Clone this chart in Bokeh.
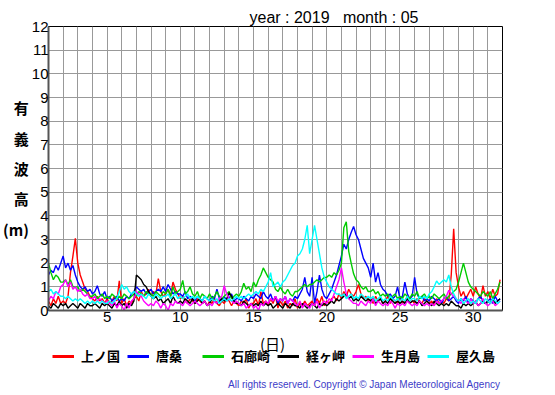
from bokeh.plotting import figure
from bokeh.models import Range1d, FixedTicker, Legend, LegendItem, Label
from bokeh.layouts import column
from bokeh.embed import file_html
from bokeh.resources import INLINE
import numpy as np

# 4-hourly significant wave height (m), May 2019, 6 samples per day
joshuni = [  # 上ノ国
 0.4,0.2,0.5,0.3,0.6,0.3, 0.4,0.3,0.6,1.6,2.3,3.05, 2.0,1.5,1.2,0.9,0.8,0.6,
 0.5,0.4,0.6,0.4,0.5,0.3, 0.5,0.3,0.4,0.6,0.4,1.25, 0.3,0.5,0.2,0.4,0.3,0.5,
 0.6,0.4,0.8,0.6,0.7,0.9, 0.6,0.8,0.7,1.35,0.8,0.6, 0.7,0.9,0.6,1.2,0.9,0.7,
 0.5,0.6,0.4,0.3,0.5,0.4, 0.3,0.5,0.4,0.3,0.4,0.2, 0.4,0.3,0.5,0.3,0.2,0.4,
 0.3,0.5,0.4,0.2,0.4,0.3, 0.2,0.4,0.3,0.5,0.1,0.3, 0.3,0.5,0.2,0.8,0.3,0.4,
 0.2,0.5,0.3,0.6,0.1,0.4, 0.2,0.4,0.1,0.3,0.2,0.5, 0.1,0.3,0.2,0.4,0.2,0.3,
 0.4,0.2,0.5,0.3,0.6,0.2, 0.4,0.3,0.5,0.6,0.4,0.7, 0.5,0.8,0.6,0.9,0.7,0.6,
 0.8,1.1,0.7,0.5,0.6,0.4, 0.5,0.3,0.6,0.4,0.5,0.3, 0.4,0.6,0.3,0.5,0.4,0.3,
 0.5,0.3,0.4,0.6,0.3,0.4, 0.3,0.5,0.4,0.3,0.5,0.4, 0.3,0.4,0.2,0.5,0.3,0.4,
 0.3,0.5,0.4,1.5,3.45,1.6, 1.0,0.6,0.8,0.5,0.7,0.9, 0.6,1.0,0.7,0.5,1.05,0.6,
 0.8,0.5,0.9,0.6,0.7,1.3]
karakuwa = [  # 唐桑
 1.5,1.7,1.6,1.9,1.7,2.0, 2.3,1.8,2.0,1.7,1.9,1.5, 1.2,1.0,0.9,1.0,0.8,0.9,
 0.7,0.8,1.05,0.7,0.6,0.8, 0.5,0.6,0.4,0.5,0.6,0.4, 0.5,0.4,0.6,0.5,0.7,0.8,
 1.0,0.9,0.8,0.9,0.7,0.8, 0.9,0.7,0.8,0.9,0.8,1.0, 0.8,1.1,0.9,0.7,0.8,0.7,
 0.7,0.6,0.8,0.5,0.6,0.5, 0.4,0.6,0.5,0.4,0.6,0.5, 0.4,0.6,0.5,0.9,0.5,0.4,
 0.6,0.4,0.5,0.7,0.4,0.5, 0.5,0.4,0.6,0.5,0.4,0.6, 0.5,0.7,0.6,0.5,0.8,0.6,
 0.5,0.7,0.4,0.6,0.3,0.5, 0.4,0.6,0.3,0.5,0.4,0.6, 0.5,0.7,0.9,1.4,0.8,0.6,
 1.4,0.3,0.8,1.5,0.9,0.6, 0.5,0.7,0.9,1.2,1.5,1.9, 2.3,2.8,2.6,3.0,3.3,3.55,
 3.2,3.0,2.6,2.2,2.0,1.8, 1.4,2.0,1.2,1.6,1.1,0.9, 0.8,0.6,0.7,0.5,0.6,1.0,
 0.5,0.6,1.2,0.7,0.5,0.6, 1.4,0.7,0.5,0.6,0.4,0.5, 0.4,0.6,0.5,0.4,0.5,0.3,
 0.5,0.6,0.4,0.5,0.6,0.4, 0.3,0.5,0.4,0.6,0.3,0.5, 0.4,0.3,0.5,0.6,0.4,0.3,
 0.4,0.5,0.3,0.6,0.4,0.5]
irozaki = [  # 石廊崎
 2.0,1.6,1.3,1.5,1.4,1.2, 1.2,1.3,1.1,1.3,1.0,1.0, 1.0,0.8,0.9,0.8,0.7,0.6,
 0.6,0.7,0.5,0.6,0.7,0.5, 0.6,0.5,0.7,0.6,0.5,0.6, 0.5,0.7,0.6,0.5,0.6,0.7,
 0.6,0.8,0.7,0.6,0.8,0.7, 0.7,0.6,0.8,0.7,0.6,0.8, 0.7,0.9,0.6,1.0,0.7,0.8,
 0.9,1.27,0.7,0.8,1.0,0.7, 0.6,0.8,0.5,0.7,0.6,0.5, 0.7,0.5,0.6,0.8,0.6,0.5,
 0.6,0.7,0.8,0.5,0.6,0.7, 0.6,0.8,1.15,0.9,1.0,0.8, 1.2,1.0,1.3,1.5,1.8,1.6,
 1.4,1.3,1.2,0.9,0.8,1.0, 0.8,0.7,0.9,0.7,0.6,0.8, 0.8,0.9,1.0,1.1,1.0,1.1,
 1.1,1.2,1.3,1.2,1.3,1.4, 1.4,1.5,1.4,1.6,1.5,1.7, 2.0,3.5,3.75,2.5,2.0,1.55,
 1.3,1.2,1.0,0.9,1.0,0.8, 0.8,0.9,0.7,0.8,0.6,0.7, 0.6,0.7,0.5,0.6,0.7,0.5,
 0.6,0.5,0.7,0.6,0.5,0.7, 0.6,0.8,0.5,0.6,0.7,0.5, 0.6,0.5,0.7,0.6,0.5,0.6,
 0.7,0.5,0.6,0.7,0.8,0.9, 1.2,1.6,2.0,1.6,1.2,1.0, 0.9,0.8,0.7,0.6,0.8,0.7,
 0.6,0.8,0.5,0.7,0.9,1.2]
kyogamisaki = [  # 経ヶ岬
 0.2,0.1,0.3,0.2,0.1,0.3, 0.2,0.3,0.1,0.2,0.3,0.2, 0.1,0.3,0.2,0.1,0.3,0.2,
 0.2,0.3,0.2,0.1,0.3,0.2, 0.3,0.2,0.1,0.3,0.2,0.4, 0.2,0.3,0.1,0.3,0.2,0.4,
 1.5,1.4,1.3,1.1,1.0,0.8, 0.6,0.5,0.6,0.4,0.5,0.3, 0.4,0.5,0.3,0.6,0.4,0.3,
 0.4,0.3,0.5,0.4,0.3,0.5, 0.3,0.4,0.5,0.3,0.4,0.2, 0.3,0.5,0.4,0.3,0.4,0.5,
 0.4,0.5,0.75,0.6,0.4,0.3, 0.3,0.2,0.4,0.3,0.2,0.3, 0.2,0.3,0.2,0.4,0.2,0.3,
 0.2,0.3,0.1,0.2,0.3,0.2, 0.1,0.3,0.2,0.1,0.3,0.2, 0.2,0.1,0.3,0.2,0.1,0.2,
 0.3,0.2,0.1,0.3,0.2,0.3, 0.2,0.3,0.4,0.3,0.5,0.4, 0.5,0.6,0.7,0.5,0.6,0.4,
 0.5,0.4,0.6,0.5,0.4,0.5, 0.4,0.5,0.3,0.4,0.5,0.3, 0.4,0.3,0.5,0.4,0.3,0.4,
 0.3,0.4,0.3,0.5,0.3,0.4, 0.4,0.3,0.4,0.2,0.3,0.4, 0.3,0.2,0.4,0.3,0.2,0.3,
 0.2,0.3,0.2,0.4,0.3,0.2, 0.2,0.1,0.3,0.2,0.3,0.2, 0.3,0.4,0.2,0.3,0.4,0.3,
 0.4,0.3,0.5,0.3,0.4,0.5]
ikitsukishima = [  # 生月島
 0.4,0.6,0.5,0.8,0.7,1.0, 1.1,1.3,1.0,1.2,0.9,1.0, 0.8,0.9,0.7,0.6,0.7,0.5,
 0.5,0.6,0.4,0.5,0.4,0.3, 0.4,0.3,0.2,0.4,0.1,0.3, 0.2,0.0,0.3,0.1,0.4,0.5,
 0.8,0.7,0.6,0.4,0.3,0.2, 0.3,0.2,0.4,0.3,0.1,0.3, 0.2,0.0,0.3,0.2,0.4,0.3,
 0.3,0.2,0.4,0.3,0.2,0.3, 0.4,0.3,0.2,0.3,0.4,0.2, 0.3,0.2,0.4,0.3,0.5,0.6,
 1.05,0.7,0.5,0.4,0.3,0.4, 0.3,0.2,0.3,0.1,0.2,0.3, 0.1,0.2,0.0,0.3,0.2,0.4,
 0.3,0.5,0.4,0.6,0.4,0.5, 0.4,0.6,0.3,0.5,0.4,0.3, 0.2,0.4,0.1,0.3,0.2,0.1,
 0.3,0.2,0.4,0.1,0.3,0.4, 0.3,0.5,0.4,0.7,1.0,1.3, 1.8,1.2,0.7,0.5,0.4,0.3,
 0.3,0.2,0.4,0.3,0.2,0.4, 0.3,0.5,0.2,0.4,0.3,0.2, 0.3,0.2,0.4,0.3,0.1,0.3,
 0.2,0.3,0.2,0.4,0.3,0.2, 0.3,0.2,0.4,0.3,0.2,0.3, 0.2,0.3,0.2,0.4,0.3,0.4,
 0.5,0.6,0.85,0.7,0.6,0.5, 0.4,0.3,0.5,0.4,0.3,0.5, 0.3,0.4,0.2,0.3,0.5,0.3,
 0.2,0.3,0.4,0.2,0.3,0.4]
yakushima = [  # 屋久島
 0.8,0.9,0.7,0.8,0.7,0.6, 0.6,0.5,0.6,0.5,0.4,0.5, 0.4,0.5,0.4,0.3,0.4,0.3,
 0.4,0.3,0.4,0.3,0.4,0.3, 0.3,0.4,0.3,0.4,0.5,0.8, 1.1,0.9,1.0,0.8,0.7,0.8,
 0.7,0.6,0.7,0.6,0.5,0.7, 0.6,0.5,0.7,0.6,0.5,0.6, 0.6,0.7,0.5,0.6,0.7,0.5,
 0.6,0.5,0.6,0.7,0.5,0.6, 0.5,0.6,0.5,0.4,0.6,0.5, 0.4,0.5,0.4,0.5,0.3,0.4,
 0.5,0.4,0.5,0.4,0.5,0.6, 0.5,0.6,0.5,0.6,0.7,0.6, 0.7,0.8,0.7,0.9,0.8,1.0,
 1.2,1.6,1.0,1.1,1.2,1.0, 1.2,1.3,1.5,1.7,1.9,2.0, 2.3,2.4,2.6,3.0,3.6,2.4,
 3.0,3.6,3.0,2.4,1.8,1.4, 1.2,1.0,0.9,0.8,0.7,0.7, 0.6,0.7,0.5,0.6,0.7,0.5,
 0.6,0.5,0.7,0.6,0.5,0.6, 0.5,0.6,0.4,0.5,0.6,0.4, 0.5,0.4,0.6,0.5,0.4,0.5,
 0.4,0.5,0.4,0.6,0.4,0.5, 0.5,0.4,0.6,0.5,0.6,0.5, 0.7,0.8,1.0,1.25,1.1,1.2,
 1.3,1.2,1.5,1.0,0.7,0.5, 0.4,0.5,0.3,0.4,0.5,0.3, 0.4,0.3,0.5,0.4,0.3,0.5,
 0.4,0.3,0.5,0.4,0.3,0.4]

stations = ["上ノ国", "唐桑", "石廊崎", "経ヶ岬", "生月島", "屋久島"]
series = [joshuni, karakuwa, irozaki, kyogamisaki, ikitsukishima, yakushima]
colors = ["#ff0000", "#0000ff", "#00cc00", "#000000", "#ff00ff", "#00ffff"]
samples_per_day = 6
first_day = 1
y_ticks = list(range(0, 13))
x_tick_days = [5, 10, 15, 20, 25, 30]

CJK = "Noto Sans CJK JP"
LAT = "Liberation Sans"
NB = "\u00a0"

# ---- main chart ----
p = figure(output_backend="svg", toolbar_location=None,
           x_range=Range1d(1, 32), y_range=Range1d(0, 12),
           min_border_left=46, min_border_right=55, min_border_top=26, min_border_bottom=20)
p.frame_width = 454
p.frame_height = 284
p.outline_line_color = "black"
p.outline_line_width = 1
p.background_fill_color = "white"
p.border_fill_color = "white"

p.title.text = "year : 2019" + NB * 3 + "month : 05"
p.title.align = "left"
p.title.offset = 201
p.title.text_font = LAT
p.title.text_font_size = "16px"
p.title.text_font_style = "normal"
p.title.text_color = "black"
p.title.standoff = 2

p.xaxis.ticker = FixedTicker(ticks=x_tick_days)
p.xgrid.ticker = FixedTicker(ticks=list(range(1, 33)))
p.yaxis.ticker = FixedTicker(ticks=y_ticks)
p.ygrid.ticker = FixedTicker(ticks=y_ticks)
for g in (p.xgrid, p.ygrid):
    g.grid_line_color = "#999999"
    g.grid_line_width = 1
for ax in (p.xaxis, p.yaxis):
    ax.major_tick_out = 0
    ax.major_tick_in = 0
    ax.minor_tick_out = 0
    ax.minor_tick_in = 0
    ax.axis_line_color = "#555555"
    ax.axis_line_width = 2
    ax.major_label_text_font = LAT
    ax.major_label_text_font_size = "15px"
    ax.major_label_text_color = "black"
    ax.axis_label_text_color = "black"
    ax.axis_label_text_font = CJK
p.yaxis.major_label_standoff = 0
p.xaxis.major_label_standoff = 1

p.yaxis.axis_label = "有\n義\n波\n高\n(m)"
p.yaxis.axis_label_orientation = "horizontal"
p.yaxis.axis_label_text_font_size = "15px"
p.yaxis.axis_label_text_font_style = "bold"
p.yaxis.axis_label_text_line_height = 1.45
p.yaxis.axis_label_standoff = 0

for name, vals, c in zip(stations, series, colors):
    t = first_day + np.arange(len(vals)) / samples_per_day
    p.line(t, vals, line_color=c, line_width=1.4)

# ---- strip below: x label, legend, credit ----
# its frame is aligned with the chart frame; the data ranges keep the
# legend's source lines out of view so only the legend samples show
q = figure(width=555, height=65, output_backend="svg", toolbar_location=None,
           x_range=Range1d(1, 32), y_range=Range1d(100, 101),
           x_axis_type=None, y_axis_type=None, min_border=0)
q.outline_line_color = None
q.grid.visible = False
q.background_fill_color = "white"
q.border_fill_color = "white"

items = []
for name, vals, c in zip(stations, series, colors):
    t = first_day + np.arange(len(vals)) / samples_per_day
    r = q.line(t, vals, line_color=c, line_width=3)
    items.append(LegendItem(label=name, renderers=[r]))
leg = Legend(items=items, location=(4, 30), orientation="horizontal",
             glyph_width=22, glyph_height=14, label_standoff=7, label_width=40,
             spacing=6, padding=0, margin=0, border_line_alpha=0,
             background_fill_alpha=0, label_text_font=CJK,
             label_text_font_size="13px", label_text_font_style="bold",
             label_text_color="black", label_height=14)
q.add_layout(leg, "center")

q.add_layout(Label(x=224, y=52, x_units="screen", y_units="screen", text="(日)",
                   text_font=CJK, text_font_size="15px", text_align="center",
                   text_baseline="middle", text_color="black"))
q.add_layout(Label(x=452, y=11, x_units="screen", y_units="screen",
                   text="All rights reserved. Copyright © Japan Meteorological Agency",
                   text_font=LAT, text_font_size="10px", text_align="right",
                   text_baseline="middle", text_color="#3c3cc8"))

open("out.html", "w").write(file_html(column(p, q, spacing=0), INLINE))
